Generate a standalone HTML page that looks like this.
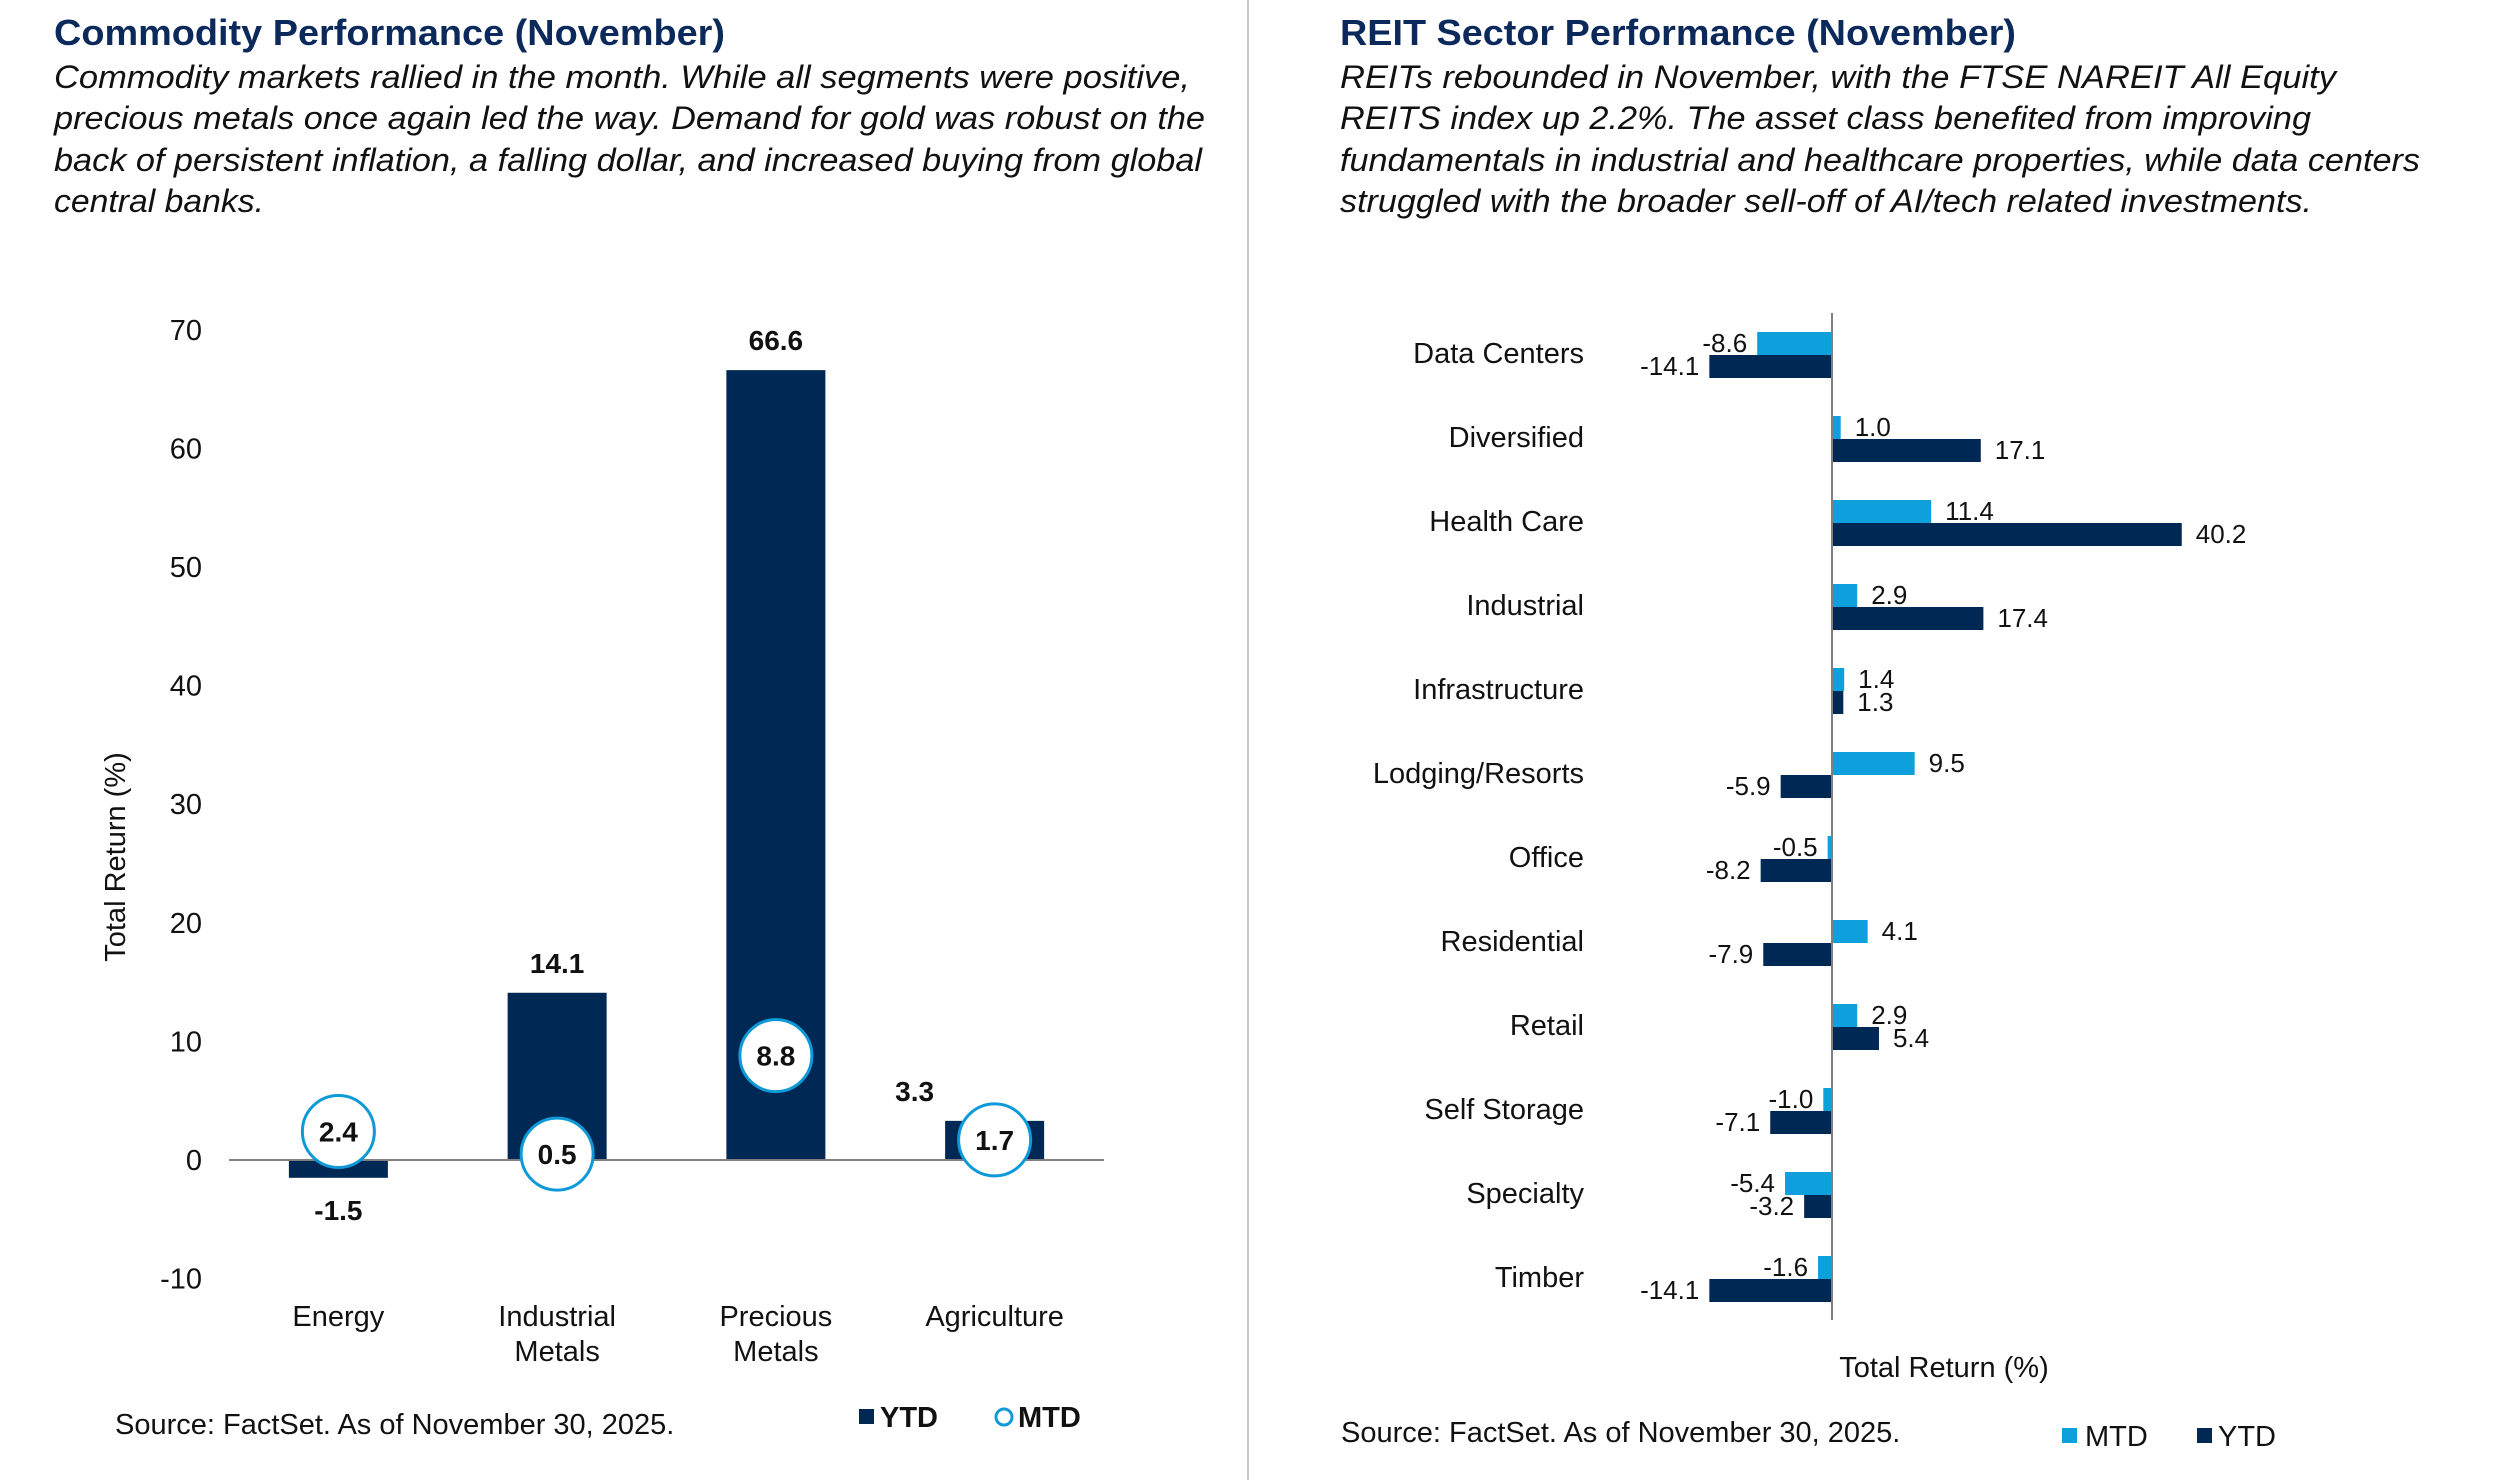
<!DOCTYPE html>
<html><head><meta charset="utf-8"><style>
html,body{margin:0;padding:0;background:#fff;}
svg{display:block;font-family:"Liberation Sans",Arial,sans-serif;}
</style></head><body>
<svg id="page" width="2500" height="1480" viewBox="0 0 2500 1480" xmlns="http://www.w3.org/2000/svg">
<rect width="2500" height="1480" fill="#fff"/>
<line x1="1248" y1="0" x2="1248" y2="1480" stroke="#c8c8c8" stroke-width="2"/>
<g>
<text x="54" y="45" font-size="36" font-weight="bold" fill="#0b2a5b" textLength="671" lengthAdjust="spacingAndGlyphs">Commodity Performance (November)</text>
<g font-size="32" font-style="italic" fill="#111">
<text x="54" y="88" textLength="1136" lengthAdjust="spacingAndGlyphs">Commodity markets rallied in the month. While all segments were positive,</text>
<text x="54" y="129" textLength="1151" lengthAdjust="spacingAndGlyphs">precious metals once again led the way. Demand for gold was robust on the</text>
<text x="54" y="171" textLength="1148" lengthAdjust="spacingAndGlyphs">back of persistent inflation, a falling dollar, and increased buying from global</text>
<text x="54" y="212" textLength="210" lengthAdjust="spacingAndGlyphs">central banks.</text>
</g></g>
<g>
<text x="1340" y="45" font-size="36" font-weight="bold" fill="#0b2a5b" textLength="676" lengthAdjust="spacingAndGlyphs">REIT Sector Performance (November)</text>
<g font-size="32" font-style="italic" fill="#111">
<text x="1340" y="88" textLength="996" lengthAdjust="spacingAndGlyphs">REITs rebounded in November, with the FTSE NAREIT All Equity</text>
<text x="1340" y="129" textLength="971" lengthAdjust="spacingAndGlyphs">REITS index up 2.2%. The asset class benefited from improving</text>
<text x="1340" y="171" textLength="1080" lengthAdjust="spacingAndGlyphs">fundamentals in industrial and healthcare properties, while data centers</text>
<text x="1340" y="212" textLength="972" lengthAdjust="spacingAndGlyphs">struggled with the broader sell-off of AI/tech related investments.</text>
</g></g>
<g id="left"></g>
<g id="right"></g>
<text x="115" y="1434" font-size="29" fill="#111">Source: FactSet. As of November 30, 2025.</text>
<text x="1341" y="1442" font-size="29" fill="#111">Source: FactSet. As of November 30, 2025.</text>
<g>
<rect x="859" y="1409" width="15" height="15" fill="#002855"/>
<text x="880" y="1427" font-size="29" font-weight="bold" fill="#111">YTD</text>
<circle cx="1004" cy="1417" r="8" fill="#fff" stroke="#0e9ad8" stroke-width="3"/>
<text x="1018" y="1427" font-size="29" font-weight="bold" fill="#111">MTD</text>
</g>
<g>
<rect x="2062" y="1428" width="15" height="15" fill="#0ea0dc"/>
<text x="2085" y="1446" font-size="29" fill="#111">MTD</text>
<rect x="2197" y="1428" width="15" height="15" fill="#002855"/>
<text x="2218" y="1446" font-size="29" fill="#111">YTD</text>
</g>
</svg>
<script>
const commodityCats = ["Energy", "Industrial|Metals", "Precious|Metals", "Agriculture"];
const commodityYTD = [-1.5, 14.1, 66.6, 3.3];
const commodityMTD = [2.4, 0.5, 8.8, 1.7];
const commodityTicks = [70, 60, 50, 40, 30, 20, 10, 0, -10];

const reitCats = ["Data Centers","Diversified","Health Care","Industrial","Infrastructure","Lodging/Resorts","Office","Residential","Retail","Self Storage","Specialty","Timber"];
const reitMTD = [-8.6, 1.0, 11.4, 2.9, 1.4, 9.5, -0.5, 4.1, 2.9, -1.0, -5.4, -1.6];
const reitYTD = [-14.1, 17.1, 40.2, 17.4, 1.3, -5.9, -8.2, -7.9, 5.4, -7.1, -3.2, -14.1];

const NS = "http://www.w3.org/2000/svg";
function mk(parent, tag, attrs, txt) {
  const e = document.createElementNS(NS, tag);
  for (const k in attrs) e.setAttribute(k, attrs[k]);
  if (txt !== undefined) e.textContent = txt;
  parent.appendChild(e);
  return e;
}
const NAVY = "#002855", BLUE = "#0ea0dc", CIRC = "#0e9ad8";

// Left chart
const L = document.getElementById("left");
const lx0 = 229, lx1 = 1104;
const ly = v => 1160 - v * 11.86;
const band = (lx1 - lx0) / commodityCats.length;
const lcx = i => lx0 + band * (i + 0.5);
commodityTicks.forEach(t => {
  const e = mk(L, "text", {x: 202, y: ly(t) + 10, "font-size": 29, "text-anchor": "end", fill: "#111"}, t);
  
  
});
const yt = mk(L, "text", {x: 0, y: 0, "font-size": 29, "text-anchor": "middle", fill: "#111", transform: "translate(125,857) rotate(-90)"}, "Total Return (%)");


commodityCats.forEach((c, i) => {
  const lines = c.split("|");
  lines.forEach((ln, j) => {
    const e = mk(L, "text", {x: lcx(i), y: 1326 + j * 35, "font-size": 29, "text-anchor": "middle", fill: "#111"}, ln);
    
    
  });
  const v = commodityYTD[i];
  const top = Math.min(ly(v), ly(0)), h = Math.abs(ly(v) - ly(0));
  const b = mk(L, "rect", {x: lcx(i) - 49.5, y: top, width: 99, height: h, fill: NAVY});
  
  
});
const ax = mk(L, "line", {x1: lx0, y1: ly(0), x2: lx1, y2: ly(0), stroke: "#808080", "stroke-width": 2});


commodityCats.forEach((c, i) => {
  const v = commodityYTD[i];
  let lx = lcx(i), lyv = v >= 0 ? ly(v) - 20 : ly(v) + 42;
  const m = commodityMTD[i];
  if (v >= 0 && Math.abs(ly(m) - ly(v)) < 60) { lx = lcx(i) - 80; }
  const t = mk(L, "text", {x: lx, y: lyv, "font-size": 28, "font-weight": "bold", "text-anchor": "middle", fill: "#111"}, v.toFixed(1));
  
  
  const ci = mk(L, "circle", {cx: lcx(i), cy: ly(m), r: 36, fill: "#fff", stroke: CIRC, "stroke-width": 3});
  
  
  const ct = mk(L, "text", {x: lcx(i), y: ly(m) + 10, "font-size": 28, "font-weight": "bold", "text-anchor": "middle", fill: "#111"}, m.toFixed(1));
  
  
});

// Right chart
const R = document.getElementById("right");
const rx = v => 1832 + v * 8.7;
const rc = i => 355 + i * 84;
const BH = 23;
reitCats.forEach((c, i) => {
  const cy = rc(i);
  const lab = mk(R, "text", {x: 1584, y: cy + 8, "font-size": 29, "text-anchor": "end", fill: "#111"}, c);
  
  
  [[reitMTD[i], BLUE, cy - BH, 'mtd-bar', 'mtd-value-label'], [reitYTD[i], NAVY, cy, 'ytd-bar', 'ytd-value-label']].forEach(s => {
    const v = s[0];
    const x = Math.min(rx(v), rx(0)), w = Math.abs(rx(v) - rx(0));
    const b = mk(R, "rect", {x: x, y: s[2], width: Math.max(w, 1), height: BH, fill: s[1]});
    
    
    const t = mk(R, "text", {x: v >= 0 ? rx(v) + 14 : rx(v) - 10, y: s[2] + 20, "font-size": 26, "text-anchor": v >= 0 ? "start" : "end", fill: "#111"}, v.toFixed(1));
    
    
  });
});
const rax = mk(R, "line", {x1: rx(0), y1: 313, x2: rx(0), y2: 1320, stroke: "#808080", "stroke-width": 2});


const xt = mk(R, "text", {x: 1944, y: 1377, "font-size": 29, "text-anchor": "middle", fill: "#111"}, "Total Return (%)");


</script>
</body></html>
